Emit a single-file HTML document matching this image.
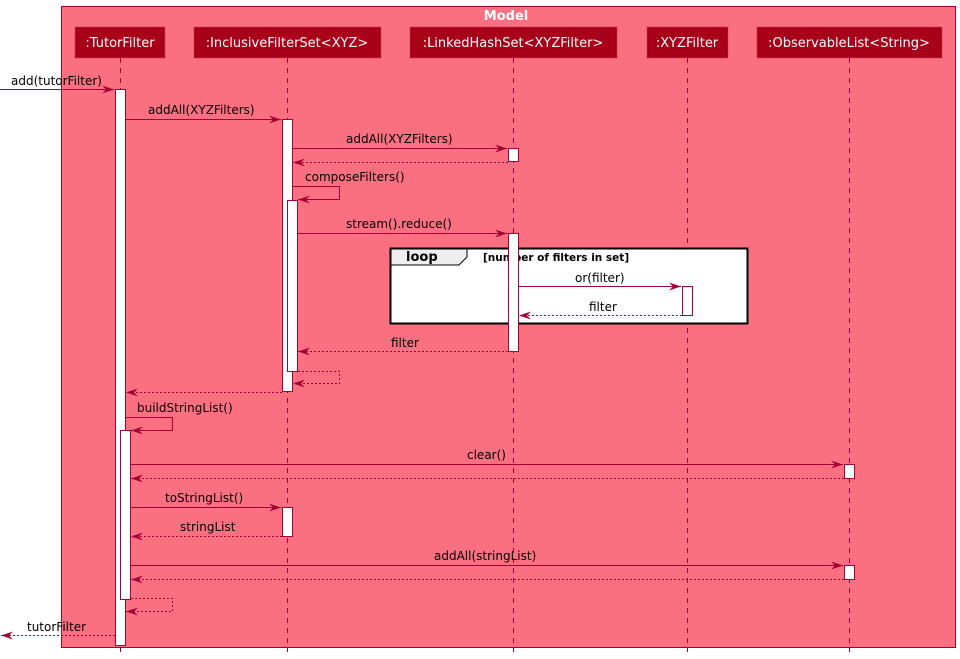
<!DOCTYPE html>
<html><head><meta charset="utf-8"><style>
html,body{margin:0;padding:0;background:#fff;}
svg{display:block;font-family:"DejaVu Sans","Liberation Sans",sans-serif;}
</style></head><body>
<svg width="960" height="659" viewBox="0 0 960 659" xmlns="http://www.w3.org/2000/svg">
<defs>
<marker id="a" viewBox="0 0 12 10" refX="12" refY="5" markerWidth="12" markerHeight="10" markerUnits="userSpaceOnUse" orient="auto"><path d="M0,1 L12,5 L0,9 L4,5 Z" fill="#A80036"/></marker>
</defs>
<rect x="61.5" y="6.5" width="894" height="641" fill="#FA7080" stroke="#A80036"/>
<text x="506" y="20" font-size="13" font-weight="bold" fill="#fff" text-anchor="middle">Model</text>
<g stroke="#A80036" stroke-dasharray="5,5" stroke-width="1">
<line x1="120.5" y1="58" x2="120.5" y2="652"/>
<line x1="287.5" y1="58" x2="287.5" y2="652"/>
<line x1="513.5" y1="58" x2="513.5" y2="652"/>
<line x1="687.5" y1="58" x2="687.5" y2="652"/>
<line x1="849.5" y1="58" x2="849.5" y2="652"/>
</g>
<g fill="#A80018" stroke="#D03050" stroke-width="0.5">
<rect x="75" y="27" width="90" height="31"/>
<rect x="194" y="27" width="187" height="31"/>
<rect x="410" y="27" width="207" height="31"/>
<rect x="647" y="27" width="81" height="31"/>
<rect x="757" y="27" width="185" height="31"/>
</g>
<g fill="#fff" font-size="13" text-anchor="middle">
<text x="120" y="47">:TutorFilter</text>
<text x="287" y="47">:InclusiveFilterSet&lt;XYZ&gt;</text>
<text x="513" y="47">:LinkedHashSet&lt;XYZFilter&gt;</text>
<text x="687" y="47">:XYZFilter</text>
<text x="849" y="47">:ObservableList&lt;String&gt;</text>
</g>
<!-- loop -->
<rect x="390.5" y="248.5" width="357" height="75" fill="#fff" stroke="#000" stroke-width="2"/>
<path d="M391,249 H467 V257 L459,265 H391 Z" fill="#EEEEEE" stroke="#000" stroke-width="1"/>
<text x="406" y="261" font-size="13" font-weight="bold">loop</text>
<text x="483" y="261" font-size="10.5" font-weight="bold">[number of filters in set]</text>
<!-- activations -->
<g fill="#fff" stroke="#A80036">
<rect x="115.5" y="89.5" width="10" height="556"/>
<rect x="120.5" y="430.5" width="10" height="169"/>
<rect x="282.5" y="119.5" width="10" height="272"/>
<rect x="287.5" y="200.5" width="10" height="171"/>
<rect x="282.5" y="507.5" width="10" height="29"/>
<rect x="508.5" y="148.5" width="10" height="13"/>
<rect x="508.5" y="233.5" width="10" height="118"/>
<rect x="682.5" y="286.5" width="10" height="29"/>
<rect x="844.5" y="464.5" width="10" height="14"/>
<rect x="844.5" y="565.5" width="10" height="14"/>
</g>
<!-- messages -->
<g stroke="#A80036" fill="none" stroke-width="1">
<line x1="0" y1="89.5" x2="114" y2="89.5" marker-end="url(#a)"/>
<line x1="126" y1="119.5" x2="281" y2="119.5" marker-end="url(#a)"/>
<line x1="293" y1="148.5" x2="507" y2="148.5" marker-end="url(#a)"/>
<line x1="508" y1="162.5" x2="293" y2="162.5" stroke-dasharray="2,2" marker-end="url(#a)"/>
<polyline points="293,186.5 339.5,186.5 339.5,199.5 298,199.5" marker-end="url(#a)"/>
<line x1="298" y1="233.5" x2="507" y2="233.5" marker-end="url(#a)"/>
<line x1="519" y1="286.5" x2="681" y2="286.5" marker-end="url(#a)"/>
<line x1="682" y1="315.5" x2="519" y2="315.5" stroke-dasharray="2,2" marker-end="url(#a)"/>
<line x1="508" y1="351.5" x2="298" y2="351.5" stroke-dasharray="2,2" marker-end="url(#a)"/>
<polyline points="298,371.5 339.5,371.5 339.5,383.5 293,383.5" stroke-dasharray="2,2" marker-end="url(#a)"/>
<line x1="282" y1="392.5" x2="126" y2="392.5" stroke-dasharray="2,2" marker-end="url(#a)"/>
<polyline points="126,417.5 172.5,417.5 172.5,430.5 131,430.5" marker-end="url(#a)"/>
<line x1="131" y1="464.5" x2="843" y2="464.5" marker-end="url(#a)"/>
<line x1="844" y1="478.5" x2="131" y2="478.5" stroke-dasharray="2,2" marker-end="url(#a)"/>
<line x1="131" y1="507.5" x2="281" y2="507.5" marker-end="url(#a)"/>
<line x1="282" y1="536.5" x2="131" y2="536.5" stroke-dasharray="2,2" marker-end="url(#a)"/>
<line x1="131" y1="565.5" x2="843" y2="565.5" marker-end="url(#a)"/>
<line x1="844" y1="579.5" x2="131" y2="579.5" stroke-dasharray="2,2" marker-end="url(#a)"/>
<polyline points="131,598.5 172.5,598.5 172.5,611.5 126,611.5" stroke-dasharray="2,2" marker-end="url(#a)"/>
<line x1="115" y1="635.5" x2="1" y2="635.5" stroke-dasharray="2,2" marker-end="url(#a)"/>
</g>
<g font-size="12" fill="#000">
<text x="11" y="85">add(tutorFilter)</text>
<text x="148" y="114">addAll(XYZFilters)</text>
<text x="346" y="143">addAll(XYZFilters)</text>
<text x="305" y="181">composeFilters()</text>
<text x="346" y="228">stream().reduce()</text>
<text x="575" y="282">or(filter)</text>
<text x="589" y="311">filter</text>
<text x="391" y="347">filter</text>
<text x="137" y="412">buildStringList()</text>
<text x="467" y="459">clear()</text>
<text x="165" y="502">toStringList()</text>
<text x="180" y="531">stringList</text>
<text x="434" y="560">addAll(stringList)</text>
<text x="27" y="631">tutorFilter</text>
</g>
</svg>
</body></html>
